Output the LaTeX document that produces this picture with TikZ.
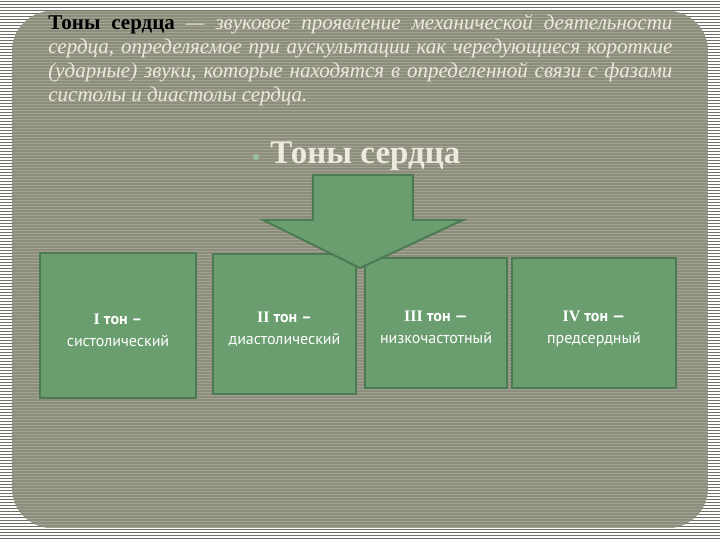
\documentclass[tikz,border=0pt]{standalone}
\usepackage{fontspec}
\setmainfont{Liberation Serif}
\newfontfamily\boxfont{PT Sans}
\usepackage{tikz}
\usetikzlibrary{positioning}
\definecolor{outerbg}{HTML}{6F7064}
\definecolor{panelbg}{HTML}{8C8D7D}
\definecolor{panelline}{HTML}{A2A392}
\definecolor{tongreen}{HTML}{6A9E6F}
\definecolor{tonedge}{HTML}{4C7A52}
\definecolor{paletext}{HTML}{ECEBDD}
\newcommand{\tonlabel}[3]{\rule{0pt}{13pt}\rmfamily #1 \boxfont тон #2\\\mdseries #3\strut}
\tikzset{tonbox/.style={%
        rectangle,
        draw=tonedge,
        line width=1pt,
        fill=tongreen,
        text=white,
        align=center,
        font=\boxfont\bfseries\fontsize{8}{11}\selectfont,
        inner sep=0pt
    }}

\begin{document}
\begin{tikzpicture}[x=0.5pt,y=-0.5pt]
    \useasboundingbox (0,0) rectangle (720,540);
    % background
    \fill[outerbg] (0,0) rectangle (720,540);
    \foreach \y in {0,3,...,540}
        \draw[white,line width=0.6pt] (0,\y) -- (720,\y);
    \fill[panelbg,rounded corners=20pt] (12,11) rectangle (708,528);
    \begin{scope}
        \clip[rounded corners=20pt] (12,11) rectangle (708,528);
        \foreach \y in {12,15,...,528}
            \draw[panelline,line width=0.5pt] (12,\y) -- (708,\y);
    \end{scope}
    % text
    \node [anchor=north west,inner sep=0pt,text width=312pt,align=justify,
        font=\fontsize{10.5}{12}\selectfont] (def) at (48,14)
        {\textbf{Тоны сердца} \textcolor{paletext}{\itshape — звуковое проявление механической деятельности сердца, определяемое при аускультации как чередующиеся короткие (ударные) звуки, которые находятся в определенной связи с фазами систолы и диастолы сердца.}};
    \node [anchor=west,inner sep=0pt,text=paletext,font=\bfseries\fontsize{16.5}{20}\selectfont] (title) at (270,156) {Тоны сердца};
    \fill[tongreen!70!white] (256,157) circle (1.6pt);
    % boxes
    \node [tonbox,minimum width=78pt,minimum height=72.5pt] (T1) at (118,325.5) {\tonlabel{I}{–}{систолический}};
    \node [tonbox,minimum width=71.5pt,minimum height=70pt] (T2) at (284.5,324) {\tonlabel{II}{–}{диастолический}};
    \node [tonbox,minimum width=71pt,minimum height=65pt] (T3) at (436,323) {\tonlabel{III}{—}{низкочастотный}};
    \node [tonbox,minimum width=82pt,minimum height=65pt] (T4) at (594,323) {\tonlabel{IV}{—}{предсердный}};
    % arrow
    \draw[tonedge,line width=1pt,fill=tongreen,line join=miter]
        (313,175) -- (413,175) -- (413,220) -- (463,220) -- (360,268)
        -- (263,220) -- (313,220) -- cycle;
\end{tikzpicture}
\end{document}
